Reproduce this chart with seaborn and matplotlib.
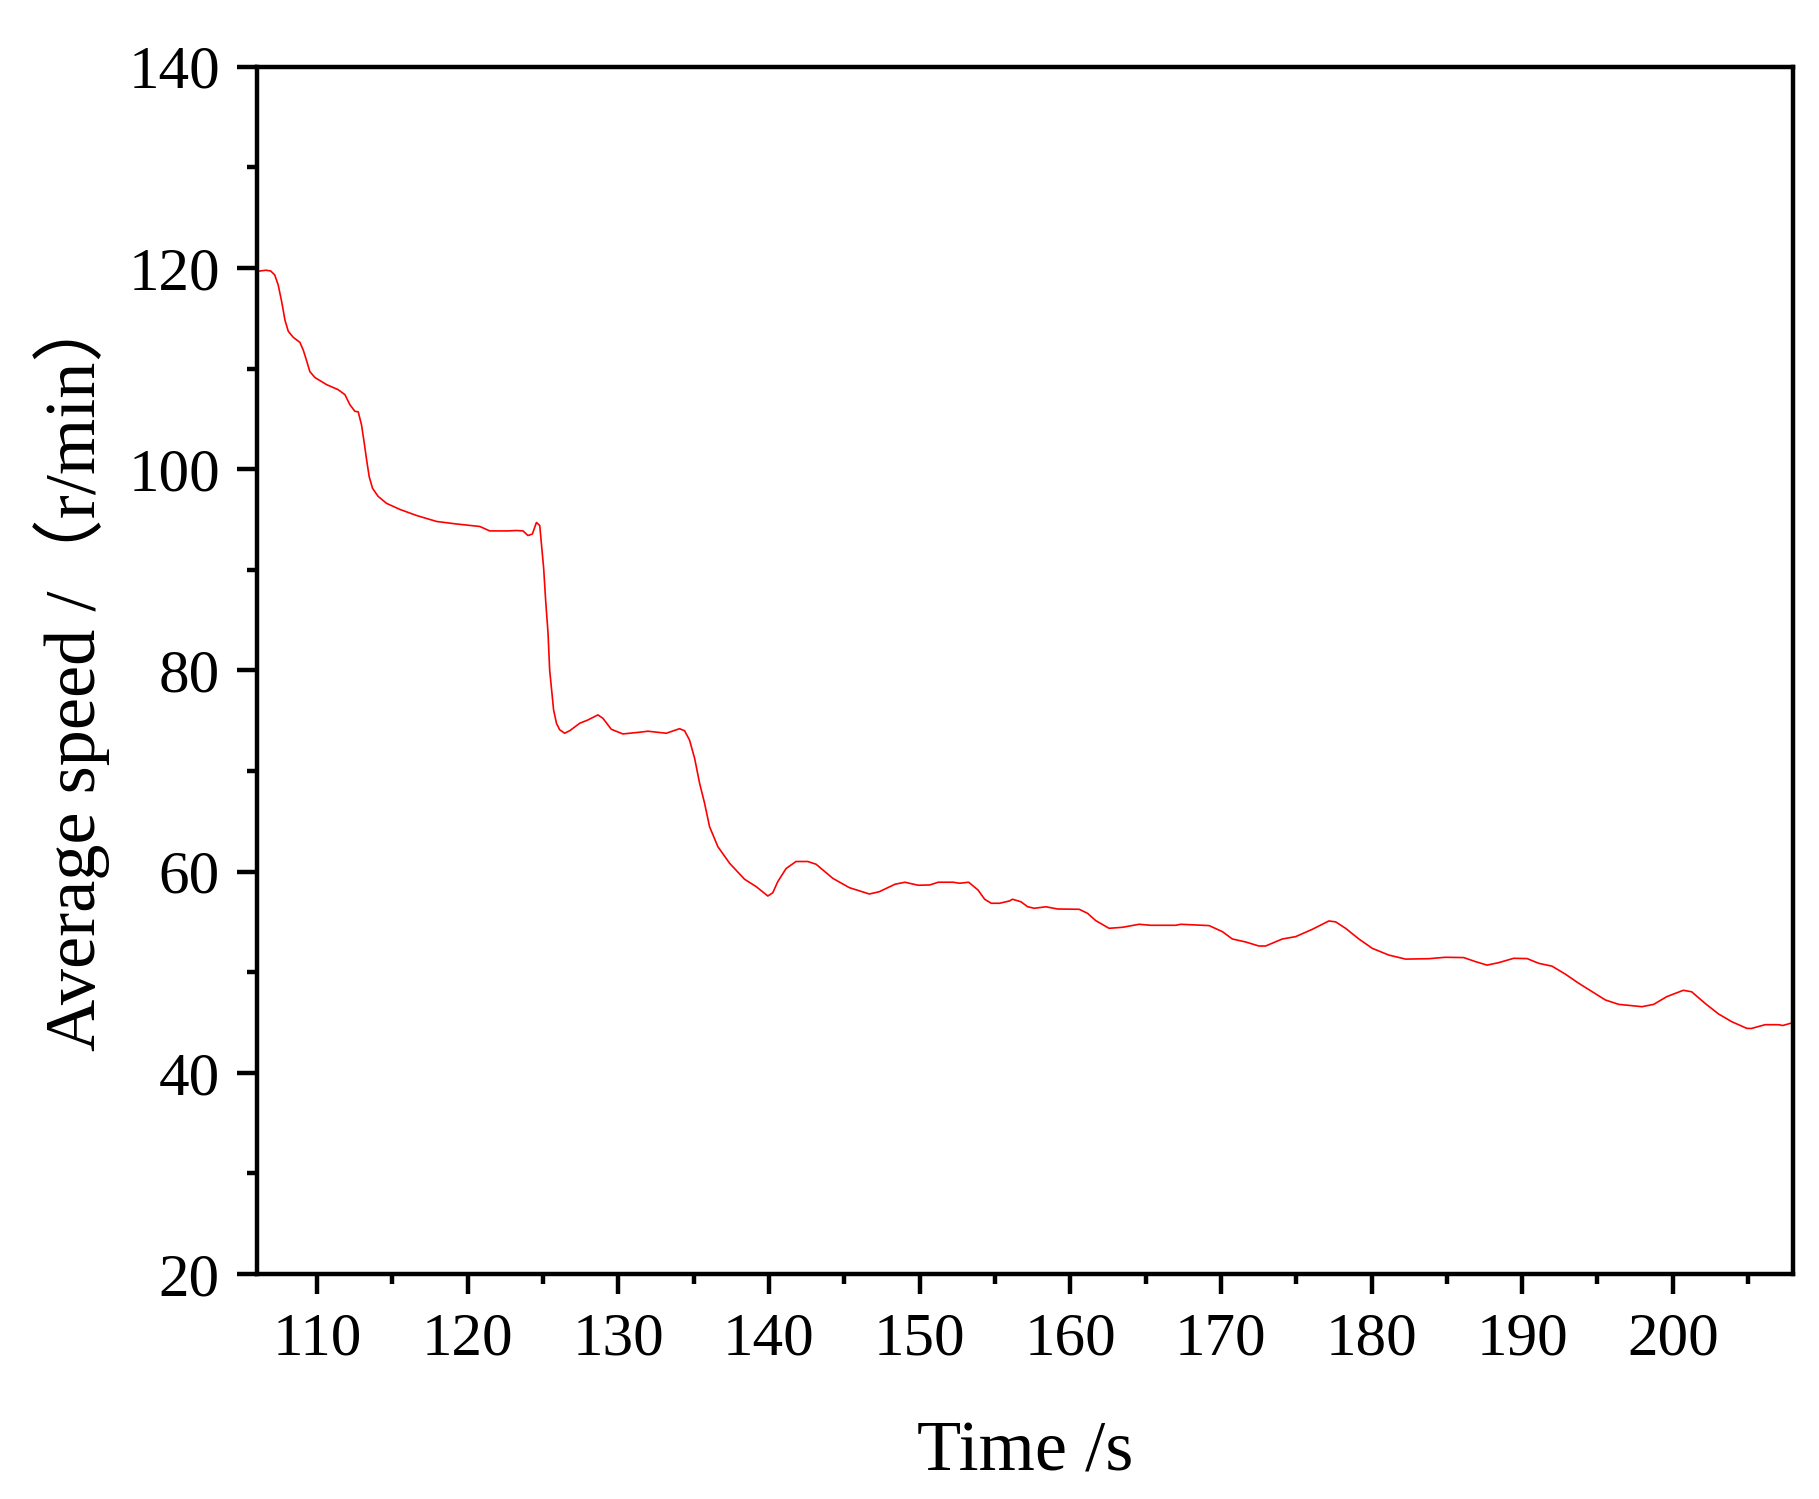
import matplotlib
matplotlib.use("Agg")
import matplotlib.pyplot as plt
from matplotlib.ticker import MultipleLocator
import pandas as pd
import seaborn as sns

# values
time_s = [
    106.0, 106.6, 106.93, 107.2, 107.43, 107.66, 107.88, 108.1, 108.43, 108.87,
    109.09, 109.3, 109.53, 109.87, 110.64, 111.41, 111.86, 112.19, 112.52, 112.74,
    112.96, 113.14, 113.3, 113.47, 113.69, 114.06, 114.62, 115.5, 116.6, 117.94,
    119.26, 120.81, 121.47, 122.69, 123.24, 123.68, 124.01, 124.3, 124.57, 124.79,
    124.9, 125.05, 125.18, 125.34, 125.45, 125.58, 125.71, 125.9, 126.11, 126.44,
    126.78, 127.44, 127.99, 128.65, 128.98, 129.54, 130.31, 131.42, 131.97, 133.19,
    134.07, 134.4, 134.73, 135.07, 135.4, 135.73, 136.06, 136.61, 137.39, 138.38,
    139.16, 139.93, 140.26, 140.59, 141.14, 141.8, 142.58, 143.13, 144.24, 145.34,
    146.67, 147.33, 148.37, 149.03, 149.91, 150.68, 151.24, 152.23, 152.66, 153.26,
    153.88, 154.32, 154.76, 155.31, 155.97, 156.17, 156.73, 157.17, 157.61, 158.39,
    159.16, 160.6, 161.15, 161.7, 162.58, 163.47, 164.57, 165.35, 167.0, 167.34,
    169.22, 170.1, 170.76, 171.65, 172.53, 172.97, 174.08, 174.96, 176.07, 177.17,
    177.62, 178.28, 179.16, 180.05, 181.15, 182.26, 183.8, 184.9, 186.12, 186.9,
    187.67, 188.45, 189.44, 190.33, 191.1, 191.98, 192.87, 193.75, 194.64, 195.52,
    196.41, 197.07, 197.95, 198.73, 199.6, 200.7, 201.25, 202.14, 203.03, 203.91,
    204.9, 205.2, 206.13, 207.0, 207.3, 208.0,
]
speed_rpm = [
    119.65, 119.77, 119.7, 119.3, 118.3, 116.65, 114.8, 113.7, 113.1, 112.6,
    111.85, 110.85, 109.7, 109.1, 108.4, 107.9, 107.4, 106.4, 105.75, 105.7,
    104.4, 102.6, 100.9, 99.25, 98.1, 97.3, 96.6, 96.0, 95.4, 94.8,
    94.55, 94.3, 93.86, 93.86, 93.9, 93.86, 93.4, 93.55, 94.7, 94.4,
    92.6, 90.15, 87.0, 83.7, 80.0, 78.05, 76.06, 74.74, 74.1, 73.75,
    74.0, 74.74, 75.07, 75.57, 75.24, 74.14, 73.68, 73.85, 73.95, 73.75,
    74.2, 74.0, 73.08, 71.26, 68.78, 66.8, 64.47, 62.48, 60.83, 59.24,
    58.5, 57.57, 57.9, 59.0, 60.3, 61.0, 61.0, 60.73, 59.33, 58.4,
    57.77, 58.0, 58.74, 58.94, 58.64, 58.67, 58.94, 58.94, 58.84, 58.94,
    58.17, 57.25, 56.85, 56.85, 57.08, 57.25, 57.0, 56.51, 56.35, 56.5,
    56.28, 56.25, 55.85, 55.12, 54.36, 54.46, 54.76, 54.66, 54.66, 54.76,
    54.63, 54.03, 53.3, 53.0, 52.6, 52.6, 53.3, 53.53, 54.26, 55.09,
    55.0, 54.36, 53.3, 52.37, 51.7, 51.3, 51.34, 51.48, 51.45, 51.05,
    50.7, 50.95, 51.38, 51.35, 50.88, 50.6, 49.8, 48.9, 48.06, 47.24,
    46.8, 46.7, 46.57, 46.8, 47.57, 48.2, 48.05, 46.9, 45.85, 45.08,
    44.42, 44.4, 44.78, 44.78, 44.7, 45.0,
]

sns.set_style("ticks", {"text.color": "black", "axes.labelcolor": "black",
                        "xtick.color": "black", "ytick.color": "black",
                        "axes.edgecolor": "black"})
plt.rcParams["font.family"] = ["Liberation Serif", "Noto Sans CJK SC", "DejaVu Sans"]

df = pd.DataFrame({"time": time_s, "speed": speed_rpm})

fig = plt.figure(figsize=(18.19, 14.99), dpi=100)
ax = fig.add_axes([0.1411, 0.1501, 0.8448, 0.8054])

sns.lineplot(data=df, x="time", y="speed", ax=ax, color="#ff0000",
             linewidth=1.2, estimator=None, sort=False)

ax.set_xlim(106, 208)
ax.set_ylim(20, 140)
ax.xaxis.set_major_locator(MultipleLocator(10))
ax.xaxis.set_minor_locator(MultipleLocator(5))
ax.yaxis.set_major_locator(MultipleLocator(20))
ax.yaxis.set_minor_locator(MultipleLocator(10))

for s in ax.spines.values():
    s.set_linewidth(3.2)
    s.set_color("black")

ax.tick_params(which="major", direction="out", length=14.4, width=3.2,
               labelsize=44, top=False, right=False, colors="black")
ax.tick_params(which="minor", direction="out", length=7.2, width=3.2,
               top=False, right=False, colors="black")
ax.tick_params(axis="x", which="major", pad=13)
ax.tick_params(axis="y", which="major", pad=12)

ax.set_xlabel("Time /s", fontsize=52, labelpad=38, color="black")
ax.set_ylabel("Average speed /（r/min）", fontsize=52, labelpad=13, color="black")

fig.savefig("out.png", dpi=100)
